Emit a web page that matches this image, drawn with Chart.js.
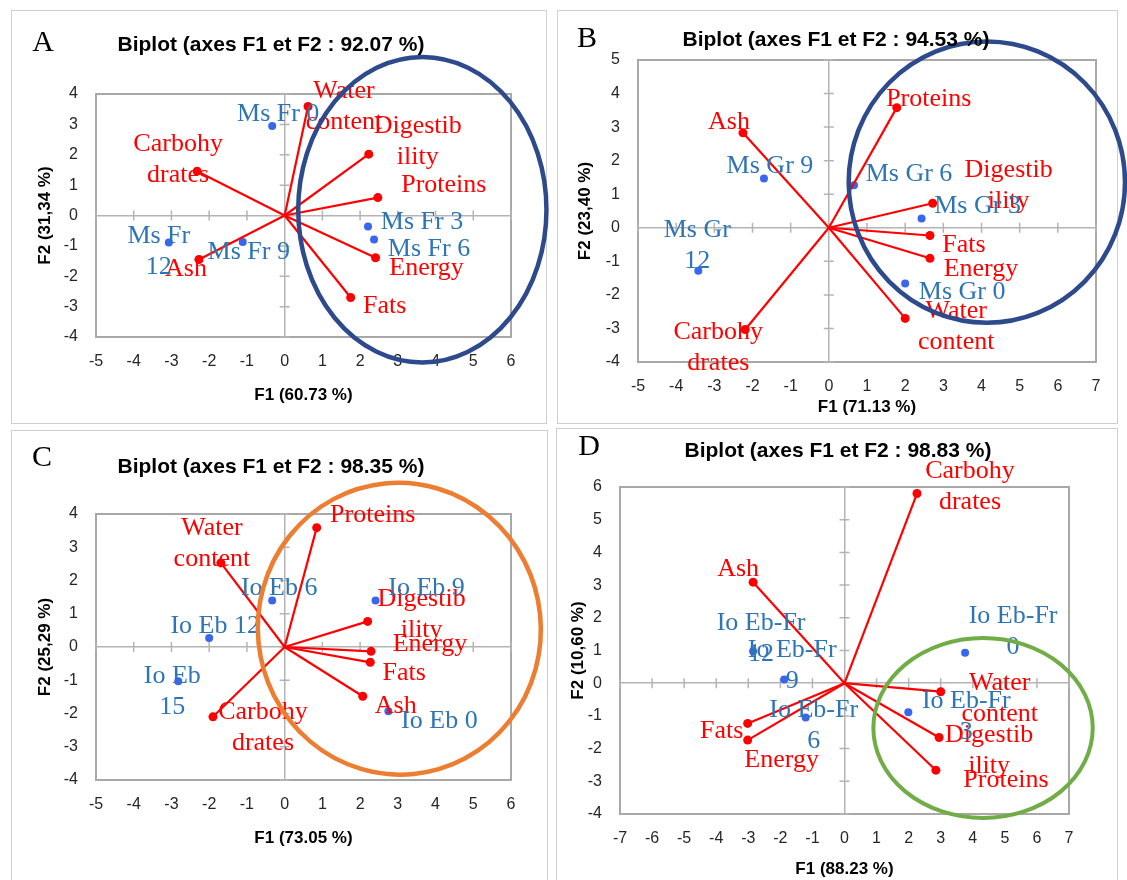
<!DOCTYPE html>
<html lang="en">
<head>
<meta charset="UTF-8">
<title>Biplots (axes F1 et F2)</title>
<script src="https://cdn.jsdelivr.net/npm/chart.js"></script>
<style>
  body { margin: 0; background: #fff; width: 1127px; height: 880px; overflow: hidden; position: relative; }
  .frame { position: absolute; border: 1px solid #cfcfcf; box-sizing: border-box; }
  canvas { position: absolute; }
</style>
</head>
<body>
<div class="frame" style="left:11px;top:10px;width:536px;height:414px"></div>
<div class="frame" style="left:557px;top:10px;width:561px;height:414px"></div>
<div class="frame" style="left:11px;top:430px;width:537px;height:470px"></div>
<div class="frame" style="left:556px;top:428px;width:562px;height:470px"></div>
<script>
// ---- A : Ms Fr ----
const aVars = ['Water\ncontent', 'Digestib\nility', 'Proteins', 'Energy', 'Fats', 'Carbohy\ndrates', 'Ash'];
const aVarX = [0.62, 2.23, 2.47, 2.41, 1.75, -2.32, -2.27];
const aVarY = [3.59, 2.02, 0.59, -1.39, -2.70, 1.46, -1.45];
const aObs = ['Ms Fr 0', 'Ms Fr 3', 'Ms Fr 6', 'Ms Fr 9', 'Ms Fr\n12'];
const aObsX = [-0.33, 2.21, 2.37, -1.11, -3.07];
const aObsY = [2.95, -0.36, -0.79, -0.87, -0.89];

// ---- B : Ms Gr ----
const bVars = ['Proteins', 'Ash', 'Digestib\nility', 'Fats', 'Energy', 'Water\ncontent', 'Carbohy\ndrates'];
const bVarX = [1.78, -2.25, 2.72, 2.65, 2.65, 2.00, -2.19];
const bVarY = [3.58, 2.83, 0.73, -0.23, -0.91, -2.70, -3.03];
const bObs = ['Ms Gr 9', 'Ms Gr 6', 'Ms Gr 3', 'Ms Gr 0', 'Ms Gr\n12'];
const bObsX = [-1.70, 0.66, 2.43, 2.00, -3.42];
const bObsY = [1.47, 1.27, 0.28, -1.66, -1.28];

// ---- C : Io Eb ----
const cVars = ['Proteins', 'Water\ncontent', 'Digestib\nility', 'Energy', 'Fats', 'Ash', 'Carbohy\ndrates'];
const cVarX = [0.85, -1.69, 2.20, 2.29, 2.27, 2.07, -1.90];
const cVarY = [3.59, 2.53, 0.77, -0.13, -0.46, -1.48, -2.10];
const cObs = ['Io Eb 6', 'Io Eb 9', 'Io Eb 12', 'Io Eb\n15', 'Io Eb 0'];
const cObsX = [-0.33, 2.41, -2.00, -2.82, 2.75];
const cObsY = [1.40, 1.40, 0.27, -1.03, -1.93];

// ---- D : Io Eb-Fr ----
const dVars = ['Carbohy\ndrates', 'Ash', 'Water\ncontent', 'Digestib\nility', 'Proteins', 'Fats', 'Energy'];
const dVarX = [2.26, -2.85, 3.00, 2.95, 2.85, -3.02, -3.02];
const dVarY = [5.80, 3.09, -0.26, -1.66, -2.66, -1.23, -1.74];
const dObs = ['Io Eb-Fr\n0', 'Io Eb-Fr\n12', 'Io Eb-Fr\n9', 'Io Eb-Fr\n6', 'Io Eb-Fr\n3'];
const dObsX = [3.76, -2.85, -1.88, -1.21, 1.99];
const dObsY = [0.93, 0.98, 0.11, -1.05, -0.89];

const RED = '#ff0000';
const DOT_BLUE = '#3a66ee';
const LABEL_BLUE = '#2e75b6';
const AXIS = '#b4b4b4';
const FRAME = '#a8a8a8';
const LINE_GAP = 31;

const panels = [
  { letter: 'A', title: 'Biplot (axes F1 et F2 : 92.07 %)', xTitle: 'F1 (60.73 %)', yTitle: 'F2 (31,34 %)',
    left: 11, top: 10, cw: 545, ch: 413, plot: [85, 84, 500, 327],
    titleXY: [260, 35], letterXY: [32, 33], xTitleY: 385, yTitleX: 34,
    xRange: [-5, 6], yRange: [-4, 4],
    vars: aVars, varX: aVarX, varY: aVarY, obs: aObs, obsX: aObsX, obsY: aObsY,
    varOff: [[36, -15], [49, -28], [66, -12], [51, 10], [34, 9], [-19, -27], [-13, 10]],
    obsOff: [[6, -12], [54, -4], [55, 10], [6, 10], [-10, -6]],
    ring: { cx: 3.65, cy: 0.19, rx: 3.29, ry: 5.03, rot: 0, color: '#2d4a8c', width: 4.5 } },
  { letter: 'B', title: 'Biplot (axes F1 et F2 : 94.53 %)', xTitle: 'F1 (71.13 %)', yTitle: 'F2 (23,40 %)',
    left: 557, top: 10, cw: 570, ch: 413, plot: [81, 50, 539, 352],
    titleXY: [279, 30], letterXY: [30, 29], xTitleY: 397, yTitleX: 28,
    xRange: [-5, 7], yRange: [-4, 5],
    vars: bVars, varX: bVarX, varY: bVarY, obs: bObs, obsX: bObsX, obsY: bObsY,
    varOff: [[32, -8], [-14, -11], [76, -33], [34, 10], [51, 11], [51, -7], [-27, 3]],
    obsOff: [[6, -12], [55, -11], [56, -12], [57, 9], [-1, -41]],
    ring: { cx: 4.14, cy: 1.36, rx: 3.62, ry: 4.19, rot: 0, color: '#2d4a8c', width: 4.5 } },
  { letter: 'C', title: 'Biplot (axes F1 et F2 : 98.35 %)', xTitle: 'F1 (73.05 %)', yTitle: 'F2 (25,29 %)',
    left: 11, top: 430, cw: 545, ch: 450, plot: [85, 84, 500, 350],
    titleXY: [260, 37], letterXY: [31, 28], xTitleY: 408, yTitleX: 34,
    xRange: [-5, 6], yRange: [-4, 4],
    vars: cVars, varX: cVarX, varY: cVarY, obs: cObs, obsX: cObsX, obsY: cObsY,
    varOff: [[56, -12], [-9, -35], [54, -22], [59, -7], [34, 11], [33, 10], [50, -5]],
    obsOff: [[7, -12], [51, -12], [6, -12], [-6, -5], [51, 10]],
    ring: { cx: 3.04, cy: 0.55, rx: 3.75, ry: 4.39, rot: -0.1, color: '#ed7d31', width: 4.5 } },
  { letter: 'D', title: 'Biplot (axes F1 et F2 : 98.83 %)', xTitle: 'F1 (88.23 %)', yTitle: 'F2 (10,60 %)',
    left: 556, top: 428, cw: 571, ch: 452, plot: [64, 59, 513, 386],
    titleXY: [282, 23], letterXY: [33, 19], xTitleY: 442, yTitleX: 22,
    xRange: [-7, 7], yRange: [-4, 6],
    vars: dVars, varX: dVarX, varY: dVarY, obs: dObs, obsX: dObsX, obsY: dObsY,
    varOff: [[53, -22], [-15, -13], [59, -9], [50, -2], [70, 10], [-26, 8], [34, 20]],
    obsOff: [[48, -37], [8, -28], [8, -29], [8, -7], [58, -11]],
    ring: { cx: 4.32, cy: -1.37, rx: 3.42, ry: 2.75, rot: 0, color: '#70ad47', width: 4 } }
];

function makeChart(p) {
  const [pl, pt, pr, pb] = p.plot;
  const cv = document.createElement('canvas');
  cv.width = p.cw; cv.height = p.ch;
  cv.style.left = p.left + 'px'; cv.style.top = p.top + 'px';
  document.body.appendChild(cv);

  // one dataset per vector, from the origin to the variable
  const datasets = p.varX.map((x, i) => ({
    data: [{ x: 0, y: 0 }, { x: x, y: p.varY[i] }],
    showLine: true, borderColor: RED, borderWidth: 2.2,
    pointRadius: [0, 4.5], pointHoverRadius: [0, 4.5],
    pointBackgroundColor: RED, pointBorderWidth: 0
  }));
  datasets.push({
    data: p.obsX.map((x, i) => ({ x: x, y: p.obsY[i] })),
    showLine: false, pointRadius: 4, pointHoverRadius: 4,
    pointBackgroundColor: DOT_BLUE, pointBorderWidth: 0
  });

  const tickFont = { family: 'Liberation Sans', size: 16 };
  const axisFont = { family: 'Liberation Sans', size: 17, weight: 'bold' };
  const zeroOnly = c => (c.tick && c.tick.value === 0) ? AXIS : 'rgba(0,0,0,0)';

  const deco = {
    id: 'deco',
    beforeDatasetsDraw(chart) {
      const { ctx, chartArea: a, scales: { x, y } } = chart;
      ctx.save();
      ctx.strokeStyle = FRAME; ctx.lineWidth = 2;
      ctx.strokeRect(a.left, a.top, a.right - a.left, a.bottom - a.top);
      const x0 = x.getPixelForValue(0), y0 = y.getPixelForValue(0);
      ctx.strokeStyle = AXIS; ctx.lineWidth = 1.5;
      ctx.beginPath();
      x.ticks.forEach(t => { const px = x.getPixelForValue(t.value); ctx.moveTo(px, y0 - 5); ctx.lineTo(px, y0 + 5); });
      y.ticks.forEach(t => { const py = y.getPixelForValue(t.value); ctx.moveTo(x0 - 5, py); ctx.lineTo(x0 + 5, py); });
      ctx.stroke();
      ctx.restore();
    },
    afterDatasetsDraw(chart) {
      const { ctx, scales: { x, y } } = chart;
      ctx.save();
      ctx.font = '26px "Liberation Serif"';
      ctx.textAlign = 'center'; ctx.textBaseline = 'middle';
      const put = (names, xs, ys, offs, color) => {
        ctx.fillStyle = color;
        names.forEach((n, i) => {
          const px = x.getPixelForValue(xs[i]) + offs[i][0];
          const py = y.getPixelForValue(ys[i]) + offs[i][1];
          n.split('\n').forEach((line, k) => ctx.fillText(line, px, py + k * LINE_GAP));
        });
      };
      put(p.vars, p.varX, p.varY, p.varOff, RED);
      put(p.obs, p.obsX, p.obsY, p.obsOff, LABEL_BLUE);
      ctx.restore();
    },
    afterDraw(chart) {
      const { ctx, scales: { x, y } } = chart;
      const r = p.ring;
      const cx = x.getPixelForValue(r.cx), cy = y.getPixelForValue(r.cy);
      const rx = Math.abs(x.getPixelForValue(r.cx + r.rx) - cx);
      const ry = Math.abs(y.getPixelForValue(r.cy + r.ry) - cy);
      ctx.save();
      ctx.strokeStyle = r.color; ctx.lineWidth = r.width;
      ctx.beginPath();
      ctx.ellipse(cx, cy, rx, ry, r.rot, 0, Math.PI * 2);
      ctx.stroke();
      ctx.fillStyle = '#000';
      ctx.textAlign = 'center'; ctx.textBaseline = 'middle';
      ctx.font = 'bold 21px "Liberation Sans"';
      ctx.fillText(p.title, p.titleXY[0], p.titleXY[1]);
      ctx.font = '30px "Liberation Serif"';
      ctx.fillText(p.letter, p.letterXY[0], p.letterXY[1]);
      ctx.restore();
    }
  };

  new Chart(cv, {
    type: 'scatter',
    data: { datasets: datasets },
    options: {
      responsive: false, animation: false, devicePixelRatio: 1,
      events: [],
      layout: { padding: { top: pt, left: 0, right: p.cw - pr, bottom: 0 } },
      plugins: { legend: { display: false }, tooltip: { enabled: false }, title: { display: false } },
      scales: {
        x: {
          type: 'linear', position: 'bottom', min: p.xRange[0], max: p.xRange[1],
          afterFit(s) { s.height = p.ch - pb; },
          ticks: { stepSize: 1, autoSkip: false, maxRotation: 0, padding: 15, font: tickFont, color: '#262626' },
          grid: { drawTicks: false, color: zeroOnly, lineWidth: 1.5 },
          border: { display: false },
          title: { display: true, text: p.xTitle, font: axisFont, color: '#000',
                   padding: { top: 0, bottom: Math.max(0, p.ch - p.xTitleY - 10.2) } }
        },
        y: {
          type: 'linear', position: 'left', min: p.yRange[0], max: p.yRange[1],
          afterFit(s) { s.width = pl; },
          ticks: { stepSize: 1, autoSkip: false, padding: 18, font: tickFont, color: '#262626' },
          grid: { drawTicks: false, color: zeroOnly, lineWidth: 1.5 },
          border: { display: false },
          title: { display: true, text: p.yTitle, font: axisFont, color: '#000',
                   padding: { top: Math.max(0, p.yTitleX - 10.2), bottom: 0 } }
        }
      }
    },
    plugins: [deco]
  });
}

panels.forEach(makeChart);
</script>
</body>
</html>
